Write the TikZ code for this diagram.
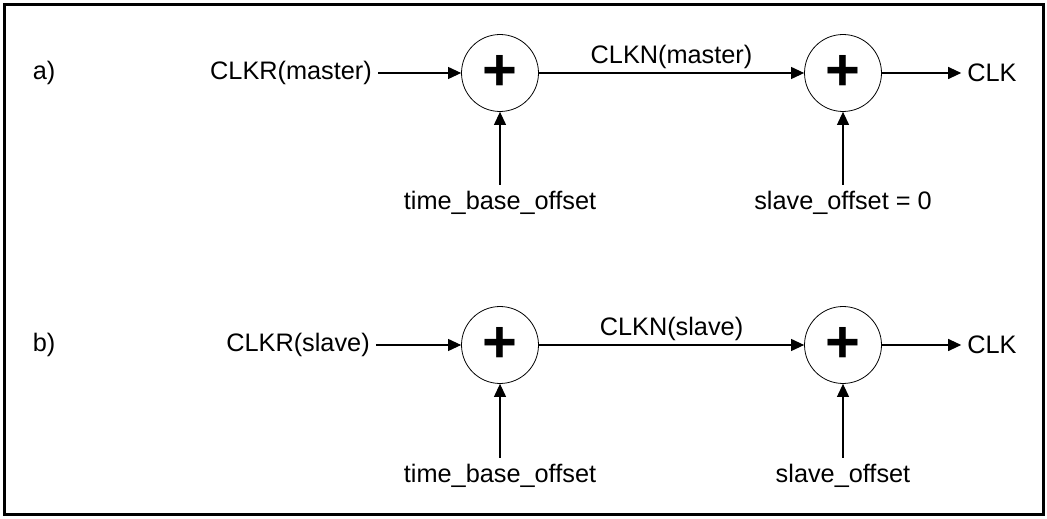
\documentclass[tikz,border=0pt]{standalone}
\usepackage{fontspec}
\setmainfont{Liberation Sans}
\usetikzlibrary{arrows.meta,positioning}

\begin{document}
\begin{tikzpicture}[x=0.02cm,y=-0.02cm,>={Triangle[length=0.26cm,width=0.24cm]},
  font=\fontsize{14.4}{17}\selectfont,
  sumnode/.style={draw,circle,line width=0.45pt,minimum size=1.54cm,inner sep=0pt,font=\fontsize{34}{34}\selectfont\bfseries},
  sig/.style={->,line width=0.6pt}]
\useasboundingbox (0,0) rectangle (1047,519);
\draw[line width=1.7pt] (4.5,4.5) rectangle (1043,514.5);
% a) master
\node (la) at (44,73) {a)};
\node[sumnode] (sa1) at (500,73) {+};
\node[sumnode] (sa2) at (843,73) {+};
\node (ina) at (291,73) {CLKR(master)};
\node (outa) at (992,73) {CLK};
\node[anchor=north] (tba) at (500,185) {time\_base\_offset};
\node[anchor=north] (soa) at (843,185) {slave\_offset = 0};
\draw[sig] (ina) -- (sa1);
\draw[sig] (sa1) -- node[above,inner sep=2pt] {CLKN(master)} (sa2);
\draw[sig] (sa2) -- (outa);
\draw[sig] (tba.north) -- (sa1.south);
\draw[sig] (soa.north) -- (sa2.south);
% b) slave
\node (lb) at (44,345) {b)};
\node[sumnode] (sb1) at (500,345) {+};
\node[sumnode] (sb2) at (843,345) {+};
\node (inb) at (298,345) {CLKR(slave)};
\node (outb) at (992,345) {CLK};
\node[anchor=north] (tbb) at (500,458) {time\_base\_offset};
\node[anchor=north] (sob) at (843,458) {slave\_offset};
\draw[sig] (inb) -- (sb1);
\draw[sig] (sb1) -- node[above,inner sep=2pt] {CLKN(slave)} (sb2);
\draw[sig] (sb2) -- (outb);
\draw[sig] (tbb.north) -- (sb1.south);
\draw[sig] (sob.north) -- (sb2.south);
\end{tikzpicture}
\end{document}
